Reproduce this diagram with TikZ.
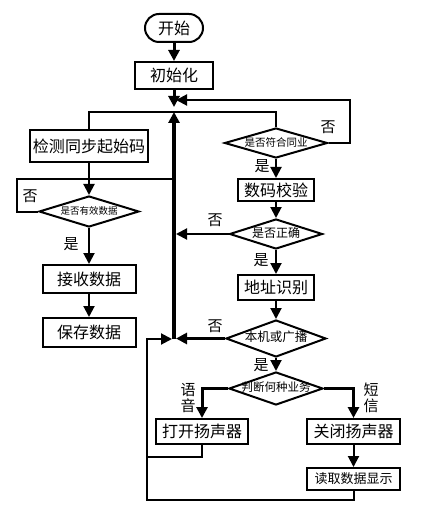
\documentclass[tikz,border=0pt]{standalone}
\usepackage{fontspec}
\setmainfont{Noto Sans CJK SC}
\usetikzlibrary{arrows.meta,positioning,shapes.geometric}

\begin{document}
\begin{tikzpicture}[x=1bp, y=-1bp, >={Triangle[width=11bp,length=11bp]}, line width=2bp, inner sep=0pt, draw=black]
				\tikzset{box/.style={draw, rectangle, line width=2bp, font=\fontsize{16bp}{16bp}\selectfont}}
				\tikzset{choice/.style={draw, diamond, line width=2bp, text height=0.75em, text depth=0.1em}}
				\tikzset{lbl/.style={font=\fontsize{15bp}{16bp}\selectfont}}
				\tikzset{main/.style={line width=4bp}, bold/.style={line width=3bp}}
				\useasboundingbox (0,0) rectangle (445,511);

				%BLOQUES
				\node[box, rounded corners=14bp, minimum width=58bp, minimum height=28bp]	(start) at (174,28)	{开始};
				\node[box, minimum width=78bp, minimum height=27bp]	(init) [below=18bp of start]	{初始化};
				\node[box, minimum width=118bp, minimum height=32bp]	(detect) at (89,146)	{检测同步起始码};
				\node[choice, aspect=3.4, minimum width=103bp, minimum height=30bp, font=\fontsize{10.5bp}{10.5bp}\selectfont]	(qSync) at (276,143)	{是否符合同业};
				\node[choice, aspect=3.2, minimum width=100bp, minimum height=31bp, font=\fontsize{9.5bp}{9.5bp}\selectfont]	(qValid) at (89,211.5)	{是否有效数据};
				\node[box, minimum width=93bp, minimum height=28bp]	(recv) [below=36bp of qValid]	{接收数据};
				\node[box, minimum width=93bp, minimum height=29bp]	(save) [below=23bp of recv]	{保存数据};
				\node[box, minimum width=76bp, minimum height=22bp]	(check) [below=19bp of qSync]	{数码校验};
				\node[choice, aspect=3.1, minimum width=93bp, minimum height=30bp, font=\fontsize{12bp}{12bp}\selectfont]	(qOK) at (276,234)	{是否正确};
				\node[box, minimum width=76bp, minimum height=25bp]	(addr) [below=24bp of qOK]	{地址识别};
				\node[choice, aspect=2.7, minimum width=100bp, minimum height=37bp, font=\fontsize{12.5bp}{12.5bp}\selectfont]	(qLocal) at (276,338.5)	{本机或广播};
				\node[choice, aspect=2.85, inner xsep=-5bp, minimum width=94bp, minimum height=33bp, font=\fontsize{11.5bp}{11.5bp}\selectfont]	(qType) at (276,388.5)	{判断何种业务};
				\node[box, minimum width=92bp, minimum height=25bp]	(spkOn) at (202,431.5)	{打开扬声器};
				\node[box, minimum width=93bp, minimum height=25bp]	(spkOff) at (353.5,431.5)	{关闭扬声器};
				\node[box, minimum width=93bp, minimum height=22bp, font=\fontsize{13bp}{13bp}\selectfont]	(show) [below=22bp of spkOff]	{读取数据显示};

				%ETIQUETAS
				\node[lbl]	(noSync) at (328,127)	{否};
				\node[lbl]	(yesSync) at (262,166)	{是};
				\node[lbl]	(noValid) at (30,196)	{否};
				\node[lbl]	(yesValid) at (71,244)	{是};
				\node[lbl]	(noOK) at (215,220)	{否};
				\node[lbl]	(yesOK) at (261,260)	{是};
				\node[lbl]	(noLocal) at (215,326)	{否};
				\node[lbl]	(yesLocal) at (261,365)	{是};
				\node[lbl, align=center]	(voice) at (188,398)	{语\\音};
				\node[lbl, align=center]	(sms) at (371,398)	{短\\信};

				%CONEXIONES
				\coordinate (top) at (174,112);
				\coordinate (bot) at (174,339);
				\coordinate (loopR) at (350,100);
				\coordinate (loopV) at (17,179);
				\coordinate (loopOn) at (147,457);
				\coordinate (loopB) at (147,500);

				\draw[->, bold] (start) -- (init);
				\draw[->, bold, shorten >=5bp] (init) -- (top);
				\draw[->, main] (bot) -- (top);
				\draw (detect.north) |- (top) -| (qSync.north);
				\draw[->, shorten >=2bp] (qSync.east) -| (loopR) -- (loopR -| top);
				\draw (qValid.west) -| (loopV) -- (loopV -| top);
				\draw[->, shorten >=2bp] (qOK.west) -- (qOK.west -| top);
				\draw[->, bold, shorten >=2bp] (qLocal.west) -- (qLocal.west -| bot);
				\draw[->, bold] (qType.west) -| (spkOn.north);
				\draw[->, bold] (qType.east) -| (spkOff.north);
				\draw (spkOn.south) |- (loopOn);
				\draw[->, shorten >=2bp] (show.south) |- (loopB) |- (bot);
				\path[->]
					(detect)	edge	(qValid)
					(qValid)	edge	(recv)
					(recv)		edge	(save)
					(qSync)		edge	(check)
					(check)		edge	(qOK)
					(qOK)		edge	(addr)
					(addr)		edge	(qLocal)
					(qLocal)	edge	(qType)
					(spkOff)	edge	(show);
\end{tikzpicture}
\end{document}
